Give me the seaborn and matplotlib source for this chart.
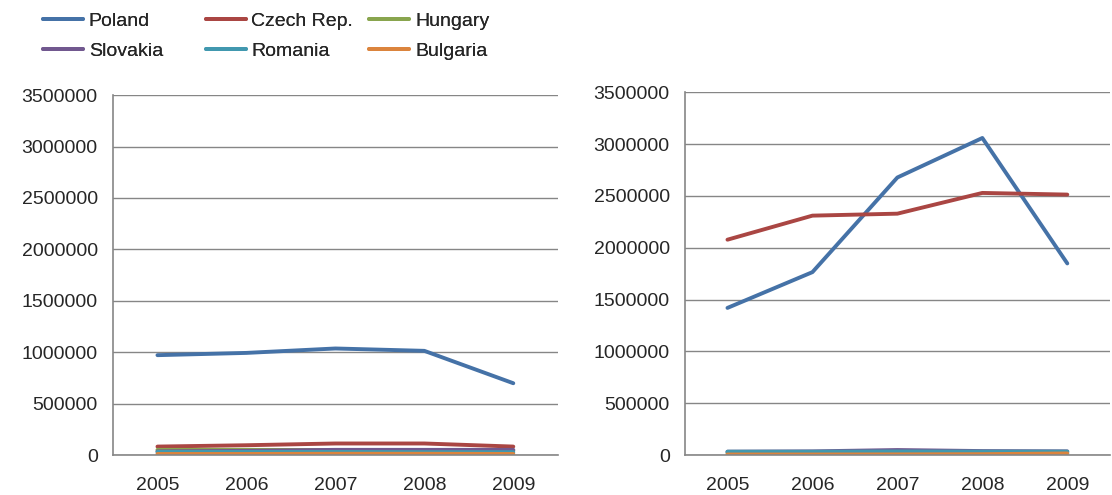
import seaborn as sns
import pandas as pd
import numpy as np
import matplotlib
matplotlib.use("Agg")
import matplotlib.pyplot as plt

years = ["2005", "2006", "2007", "2008", "2009"]
countries = ["Poland", "Czech Rep.", "Hungary", "Slovakia", "Romania", "Bulgaria"]
colors = ["#4572A7", "#AA4643", "#89A54E", "#71588F", "#4198AF", "#DB843D"]

# left chart
left_poland = [971000, 993000, 1036000, 1013000, 698000]
left_czech = [82000, 95000, 112000, 112000, 82000]
left_hungary = [50000, 50000, 48000, 46000, 45000]
left_slovakia = [35000, 40000, 50000, 50000, 50000]
left_romania = [30000, 30000, 30000, 28000, 28000]
left_bulgaria = [10000, 10000, 12000, 12000, 10000]

# right chart
right_poland = [1419000, 1764000, 2677000, 3058000, 1848000]
right_czech = [2077000, 2309000, 2328000, 2528000, 2512000]
right_hungary = [20000, 20000, 22000, 22000, 20000]
right_slovakia = [32000, 35000, 48000, 38000, 35000]
right_romania = [32000, 32000, 34000, 33000, 33000]
right_bulgaria = [5000, 5000, 6000, 8000, 15000]

left_vals = [left_poland, left_czech, left_hungary, left_slovakia, left_romania, left_bulgaria]
right_vals = [right_poland, right_czech, right_hungary, right_slovakia, right_romania, right_bulgaria]


def to_long(vals):
    rows = []
    for c, v in zip(countries, vals):
        for y, val in zip(years, v):
            rows.append({"year": y, "country": c, "value": val})
    return pd.DataFrame(rows)


sns.set_style("white")
plt.rcParams["font.family"] = ["Liberation Sans", "DejaVu Sans"]

fig = plt.figure(figsize=(11.12, 4.95), dpi=100)
ax1 = fig.add_axes([0.1016, 0.0808, 0.400, 0.727])
ax2 = fig.add_axes([0.616, 0.0808, 0.382, 0.733])

grey = "#868686"
for ax, vals in [(ax1, left_vals), (ax2, right_vals)]:
    df = to_long(vals)
    sns.lineplot(data=df, x="year", y="value", hue="country", hue_order=countries,
                 palette=colors, linewidth=2.8, ax=ax, legend=(ax is ax1), sort=False)
    ax.set_xlim(-0.5, 4.5)
    ax.set_ylim(0, 3500000)
    ax.set_yticks(np.arange(0, 3500001, 500000))
    ax.set_yticklabels([str(v) for v in range(0, 3500001, 500000)])
    ax.yaxis.grid(True, color=grey, linewidth=1)
    ax.set_axisbelow(True)
    for s in ["top", "right"]:
        ax.spines[s].set_visible(False)
    ax.spines["left"].set_color(grey)
    ax.spines["bottom"].set_color(grey)
    ax.spines["left"].set_linewidth(1.2)
    ax.spines["bottom"].set_linewidth(1.2)
    ax.set_xticks(range(len(years)))
    ax.set_xticklabels(years)
    ax.set_xticks(np.arange(-0.5, 5, 1), minor=True)
    ax.tick_params(axis="x", which="major", length=0, pad=16, labelsize=14)
    ax.tick_params(axis="x", which="minor", length=5, color=grey, direction="out")
    ax.tick_params(axis="y", length=5, color=grey, direction="out", labelsize=14, pad=6)
    ax.set_xlabel("")
    ax.set_ylabel("")

handles, labels = ax1.get_legend_handles_labels()
ax1.get_legend().remove()

# one legend per column, placed like the Excel legend grid
col_x = [0.0387, 0.185, 0.332]
for k, x0 in enumerate(col_x):
    idx = [k, k + 3]
    leg = fig.legend([handles[i] for i in idx], [labels[i] for i in idx],
                     loc="upper left", bbox_to_anchor=(x0, 0.975), ncol=1, frameon=False,
                     fontsize=14, handlelength=2.05, handletextpad=0.3,
                     labelspacing=0.62, borderpad=0, borderaxespad=0)
    fig.add_artist(leg)

fig.savefig("out.png", dpi=100)
